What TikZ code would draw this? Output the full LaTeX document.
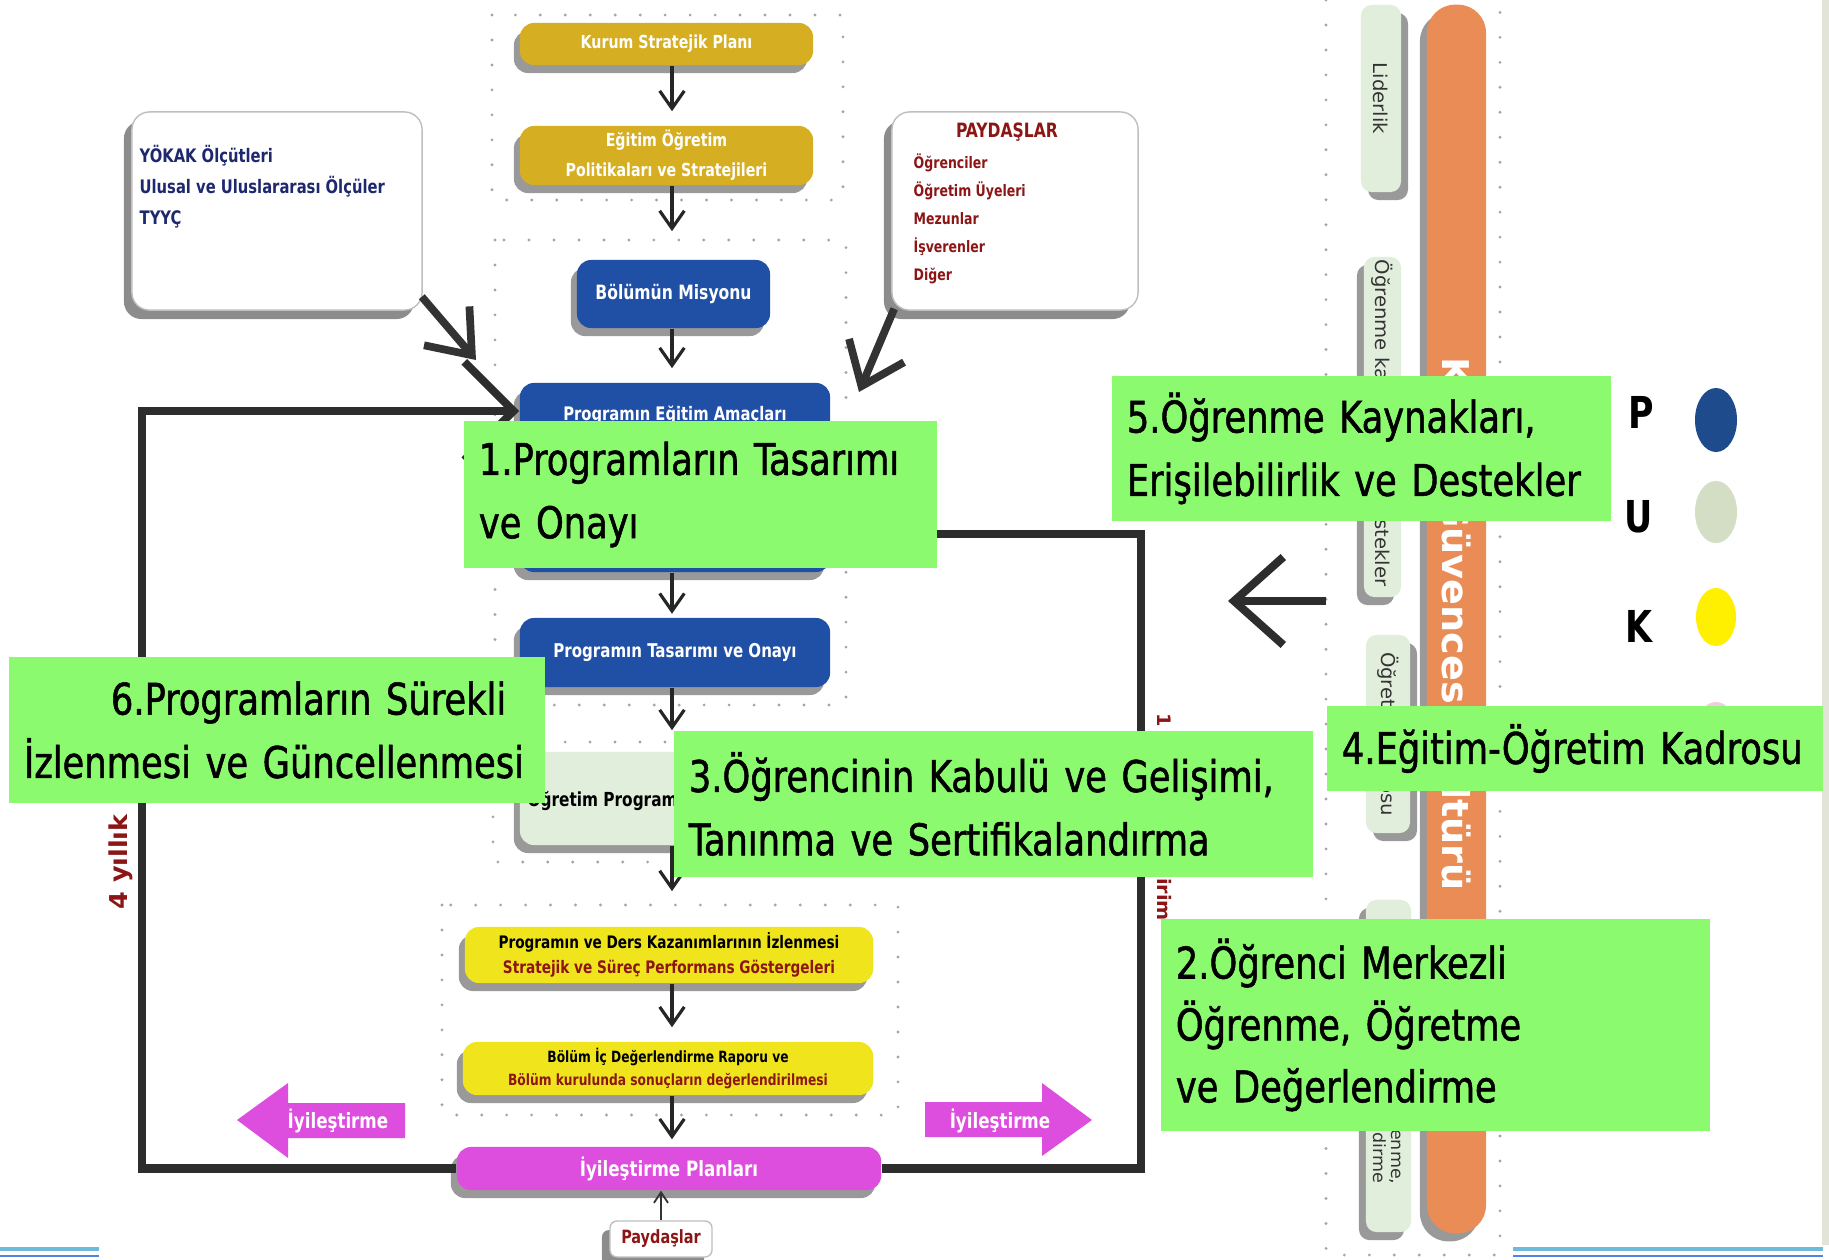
\documentclass[tikz,border=0pt]{standalone}
\usepackage{fontspec}
\setmainfont[FakeStretch=0.88,BoldFont={DejaVu Sans Condensed Bold}]{DejaVu Sans Condensed}
\newfontfamily\vertfont[FakeStretch=1.15,BoldFont={DejaVu Sans Condensed Bold}]{DejaVu Sans Condensed}
\newfontfamily\lblfont[FakeStretch=0.9,FakeBold=1.2]{DejaVu Sans Condensed}
\usetikzlibrary{arrows.meta,shadows,shapes.geometric}

\definecolor{goldbox}{RGB}{214,174,34}
\definecolor{bluebox}{RGB}{32,80,165}
\definecolor{palegreen}{RGB}{226,238,220}
\definecolor{yellowbox}{RGB}{240,228,28}
\definecolor{magentabox}{RGB}{222,78,222}
\definecolor{labelgreen}{RGB}{140,250,110}
\definecolor{orangebar}{RGB}{234,140,86}
\definecolor{darkred}{RGB}{140,22,22}
\definecolor{navytext}{RGB}{30,40,110}
\definecolor{dotgray}{RGB}{165,165,165}
\definecolor{loopgray}{RGB}{45,45,45}
\definecolor{legendblue}{RGB}{30,75,140}
\definecolor{legendgreen}{RGB}{212,222,196}
\definecolor{legendyellow}{RGB}{255,240,0}
\definecolor{legendpink}{RGB}{245,200,225}
\definecolor{edgeblue}{RGB}{110,185,220}
\definecolor{stripgray}{RGB}{225,228,215}

\tikzset{
  flowbox/.style={rounded corners=4pt, inner sep=0pt, align=center,
    drop shadow={shadow xshift=-0.06cm, shadow yshift=-0.08cm, opacity=0.4, fill=black}},
  goldstep/.style={flowbox, fill=goldbox, text=white, font=\bfseries\fontsize{5.1}{8.5}\selectfont},
  bluestep/.style={flowbox, fill=bluebox, text=white, font=\bfseries\fontsize{5.4}{7}\selectfont},
  palestep/.style={flowbox, fill=palegreen},
  yellowstep/.style={flowbox, fill=yellowbox, font=\bfseries\fontsize{4.9}{7.1}\selectfont},
  pinkstep/.style={flowbox, fill=magentabox, text=white, font=\bfseries\fontsize{6}{7}\selectfont},
  notebox/.style={rounded corners=5pt, draw=gray!50, line width=0.4pt, fill=white, inner sep=0pt,
    drop shadow={shadow xshift=-0.08cm, shadow yshift=-0.09cm, opacity=0.45, fill=black}},
  sidebox/.style={rounded corners=3pt, fill=palegreen, inner sep=0pt},
  shadowleft/.style={drop shadow={shadow xshift=-0.07cm, shadow yshift=-0.08cm, opacity=0.4, fill=black}},
  shadowright/.style={drop shadow={shadow xshift=0.07cm, shadow yshift=-0.08cm, opacity=0.4, fill=black}},
  sidetext/.style={rotate=-90, font=\vertfont\fontsize{5.4}{5.8}\selectfont, text=black!80, align=center, inner sep=0pt},
  stdlabel/.style={fill=labelgreen, inner xsep=0.15cm, inner ysep=0pt, align=left,
    font=\lblfont\fontsize{12.4}{18}\selectfont},
  flowarrow/.style={draw=black!85, line width=0.9pt, -{Straight Barb[length=5pt,width=7pt]}, shorten >=4pt},
  bigarrow/.style={draw=black!80, line width=2.2pt, -{Straight Barb[length=11pt,width=17pt]}},
  loopline/.style={draw=loopgray, line width=2.3pt},
  dotframe/.style={draw=dotgray, line width=0.9pt, line cap=round, dash pattern=on 0pt off 7.1pt},
  yeartext/.style={text=darkred, font=\vertfont\bfseries\fontsize{7}{8}\selectfont, inner sep=0pt},
}

\begin{document}
\begin{tikzpicture}[x=0.01cm,y=-0.01cm]
\useasboundingbox (0,0) rectangle (1829,1260);
\fill[white] (0,0) rectangle (1829,1260);

% dotted frames
\draw[dotframe] (492,15) rectangle (843,200);
\draw[dotframe] (495,240) rectangle (846,705);
\draw[dotframe] (493,742) rectangle (846,862);
\draw[dotframe] (442,905) rectangle (898,1115);
\draw[dotframe] (1326,0) -- (1326,1255) -- (1500,1255) -- (1500,0);

% page edges
\fill[stripgray] (1822,0) rectangle (1829,1245);
\draw[edgeblue, line width=1.2pt] (0,1249) -- (99,1249);
\draw[edgeblue!70!blue, line width=0.8pt] (0,1256) -- (99,1256);
\draw[edgeblue, line width=1.2pt] (1513,1249) -- (1823,1249);
\draw[edgeblue!70!blue, line width=0.8pt] (1513,1256) -- (1823,1256);

% note boxes
\node[notebox, minimum width=2.90cm, minimum height=1.98cm] (yokak) at (277,211) {};
\node[anchor=north west, align=left, text=navytext, font=\bfseries\fontsize{5.3}{8.7}\selectfont, inner sep=0pt] (yokaktext) at (139,145)
  {YÖKAK Ölçütleri\\Ulusal ve Uluslararası Ölçüler\\TYYÇ};
\node[notebox, minimum width=2.46cm, minimum height=1.98cm] (paydaslar) at (1015,211) {};
\node[text=darkred, font=\bfseries\fontsize{5.6}{7}\selectfont, inner sep=0pt] (paydastitle) at (1007,132) {PAYDAŞLAR};
\node[anchor=north west, align=left, text=darkred, font=\bfseries\fontsize{4.5}{8}\selectfont, inner sep=0pt] (paydasitems) at (913,153)
  {Öğrenciler\\Öğretim Üyeleri\\Mezunlar\\İşverenler\\Diğer};

% flow boxes
\node[goldstep, minimum width=2.93cm, minimum height=0.42cm] (kurum) at (666.5,44) {Kurum Stratejik Planı};
\node[goldstep, minimum width=2.93cm, minimum height=0.59cm] (politika) at (666.5,155.5) {Eğitim Öğretim\\Politikaları ve Stratejileri};
\node[bluestep, minimum width=1.93cm, minimum height=0.68cm, font=\bfseries\fontsize{5.6}{7}\selectfont] (misyon) at (673.5,294) {Bölümün Misyonu};
\node[bluestep, minimum width=3.10cm, minimum height=1.89cm] (amac) at (675,477.5) {};
\node[text=white, font=\bfseries\fontsize{5.3}{7}\selectfont, inner sep=0pt] (amactext) at (675,415) {Programın Eğitim Amaçları};
\node[bluestep, minimum width=3.10cm, minimum height=0.69cm] (tasarim) at (675,652.5) {Programın Tasarımı ve Onayı};
\node[palestep, minimum width=3.10cm, minimum height=0.93cm] (ogrprog) at (675,798.5) {};
\node[anchor=west, font=\bfseries\fontsize{5.5}{7}\selectfont, inner sep=0pt] (ogrprogtext) at (527,800) {Öğretim Programı};
\node[yellowstep, minimum width=4.08cm, minimum height=0.56cm] (izleme) at (669,955)
  {Programın ve Ders Kazanımlarının İzlenmesi\\\textcolor{darkred}{Stratejik ve Süreç Performans Göstergeleri}};
\node[yellowstep, minimum width=4.10cm, minimum height=0.53cm, font=\bfseries\fontsize{4.4}{6.7}\selectfont] (rapor) at (668,1068.5)
  {Bölüm İç Değerlendirme Raporu ve\\\textcolor{darkred}{Bölüm kurulunda sonuçların değerlendirilmesi}};
\node[pinkstep, minimum width=4.24cm, minimum height=0.43cm] (iyil) at (669,1168.5) {İyileştirme Planları};
\node[notebox, rounded corners=2pt, minimum width=1.02cm, minimum height=0.36cm, text=darkred, font=\bfseries\fontsize{5.2}{6}\selectfont] (paydas) at (661,1239) {Paydaşlar};

% flow arrows
\coordinate (axis) at (672,0);
\draw[flowarrow] (kurum.south -| axis) -- (politika.north -| axis);
\draw[flowarrow, shorten >=8pt] (politika.south -| axis) -- (misyon.north -| axis);
\draw[flowarrow] (misyon.south -| axis) -- (amac.north -| axis);
\draw[flowarrow, shorten >=1pt] (amac.south -| axis) -- (tasarim.north -| axis);
\draw[flowarrow, shorten >=6pt] (tasarim.south -| axis) -- (ogrprog.north -| axis);
\draw[flowarrow, shorten >=10pt] (ogrprog.south -| axis) -- (izleme.north -| axis);
\draw[flowarrow] (izleme.south -| axis) -- (rapor.north -| axis);
\draw[flowarrow, shorten >=2pt] (rapor.south -| axis) -- (iyil.north -| axis);
\draw[draw=black!80, line width=0.5pt, -{Straight Barb[length=3pt,width=4pt]}] (paydas.north) -- (paydas.north |- iyil.south);

% inputs
\coordinate (yokaktip) at (476,360);
\coordinate (paydastip) at (859,392);
\draw[bigarrow] ([xshift=-0.01cm,yshift=0.14cm]yokak.south east) -- (yokaktip);
\draw[bigarrow] ([xshift=0.03cm,yshift=0.02cm]paydaslar.south west) -- (paydastip);

% improvement loop
\coordinate (loopTL) at (142,411);
\coordinate (loopTR) at (1141,534);
\draw[loopline, -{Straight Barb[length=14pt,width=28pt]}] (iyil.west) -| (loopTL) -- (loopTL -| amac.west);
\draw[loopline] (iyil.east) -| (loopTR) -- (loopTR -| amac.east);

\fill[magentabox] (237,1120) -- (288,1083) -- (288,1103) -- (405,1103) -- (405,1138) -- (288,1138) -- (288,1158) -- cycle;
\node[text=white, font=\bfseries\fontsize{6}{7}\selectfont, inner sep=0pt] (iyilleft) at (338,1121) {İyileştirme};
\fill[magentabox] (1092,1120) -- (1042,1083) -- (1042,1102) -- (925,1102) -- (925,1137) -- (1042,1137) -- (1042,1156) -- cycle;
\node[text=white, font=\bfseries\fontsize{6}{7}\selectfont, inner sep=0pt] (iyilright) at (1000,1121) {İyileştirme};

\node[yeartext, rotate=90] (dortyil) at (121,862) {4 yıllık};
\node[yeartext, rotate=-90, anchor=west, font=\vertfont\bfseries\fontsize{5.3}{6}\selectfont] (biryil) at (1163,713) {1 yıllık Geribildirim};

% quality culture column
\node[fill=orangebar, rounded corners=8pt, minimum width=0.59cm, minimum height=12.28cm, inner sep=0pt, shadowleft] (kalite) at (1456.5,619) {};
\node[rotate=-90, text=white, font=\vertfont\bfseries\fontsize{10.5}{12}\selectfont, inner sep=0pt] (kalitetext) at (1456.5,624) {Kalite Güvencesi Kültürü};
\node[sidebox, minimum width=0.40cm, minimum height=1.87cm, shadowright] (lider) at (1381,98.5) {};
\node[sidetext] (lidertext) at (lider.center) {Liderlik};
\node[sidebox, minimum width=0.37cm, minimum height=3.40cm, shadowleft] (kaynak) at (1382.5,427) {};
\node[sidetext] (kaynaktext) at (1382.5,423) {Öğrenme kaynakları ve destekler};
\node[sidebox, minimum width=0.44cm, minimum height=1.98cm, shadowright] (kadro) at (1388,734) {};
\node[sidetext] (kadrotext) at (kadro.center) {Öğretim kadrosu};
\node[sidebox, minimum width=0.45cm, minimum height=3.32cm, shadowleft] (merkez) at (1388.5,1066) {};
\node[sidetext, font=\vertfont\fontsize{4.8}{5.3}\selectfont] (merkeztext) at (1388.5,1066) {Öğrenci merkezli öğrenme,\\öğretme ve değerlendirme};

\coordinate (colarrow) at (1326,601);
\coordinate (colarrowtip) at (1228,601);
\draw[loopline, -{Straight Barb[length=14pt,width=25pt]}] (colarrow) -- (colarrowtip);

% legend
\node[font=\bfseries\fontsize{12.5}{14}\selectfont, inner sep=0pt] (legP) at (1641,412) {P};
\node[ellipse, fill=legendblue, minimum width=0.42cm, minimum height=0.64cm, inner sep=0pt] (legPdot) at (1716,420) {};
\node[font=\bfseries\fontsize{12.5}{14}\selectfont, inner sep=0pt] (legU) at (1639,517) {U};
\node[ellipse, fill=legendgreen, minimum width=0.42cm, minimum height=0.62cm, inner sep=0pt] (legUdot) at (1716,512) {};
\node[font=\bfseries\fontsize{12.5}{14}\selectfont, inner sep=0pt] (legK) at (1639,626) {K};
\node[ellipse, fill=legendyellow, minimum width=0.40cm, minimum height=0.58cm, inner sep=0pt] (legKdot) at (1716,617) {};
\node[ellipse, fill=legendpink, minimum width=0.40cm, minimum height=0.56cm, inner sep=0pt] (legIdot) at (1716,730) {};

% standard labels
\node[stdlabel, text width=4.43cm, minimum height=1.47cm] (std1) at (700.5,494.5) {1.Programların Tasarımı\\ve Onayı};
\node[stdlabel, text width=5.19cm, minimum height=2.12cm, font=\lblfont\fontsize{12.4}{17.6}\selectfont] (std2) at (1435.5,1025) {2.Öğrenci Merkezli\\Öğrenme, Öğretme\\ve Değerlendirme};
\node[stdlabel, text width=6.09cm, minimum height=1.46cm] (std3) at (993.5,804) {3.Öğrencinin Kabulü ve Gelişimi,\\Tanınma ve Sertifikalandırma};
\node[stdlabel, text width=4.66cm, minimum height=0.85cm] (std4) at (1575,748.5) {4.Eğitim-Öğretim Kadrosu};
\node[stdlabel, text width=4.69cm, minimum height=1.45cm] (std5) at (1361.5,448.5) {5.Öğrenme Kaynakları,\\Erişilebilirlik ve Destekler};
\node[stdlabel, text width=5.06cm, minimum height=1.46cm] (std6) at (277,730) {\hspace*{0.87cm}6.Programların Sürekli\\İzlenmesi ve Güncellenmesi};
\end{tikzpicture}
\end{document}
